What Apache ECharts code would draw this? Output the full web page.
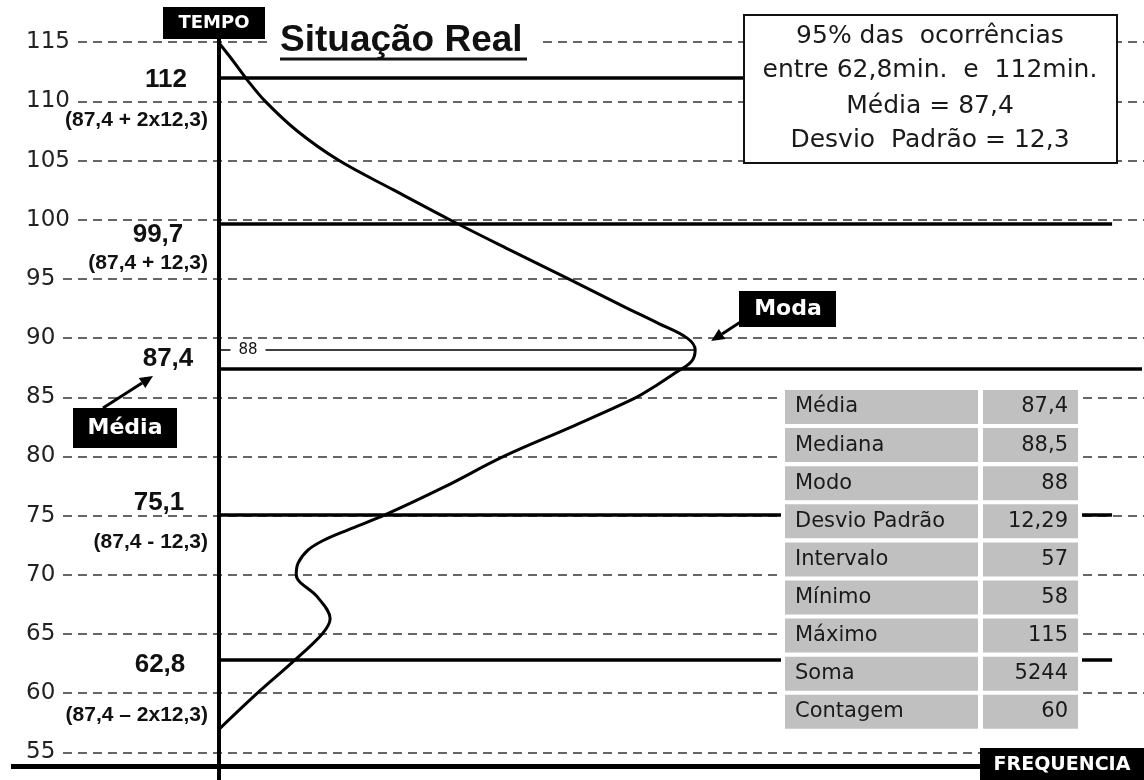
<!DOCTYPE html>
<html>
<head>
<meta charset="utf-8">
<script src="https://cdn.jsdelivr.net/npm/echarts@6/dist/echarts.min.js"></script>
<style>
  html, body { margin: 0; padding: 0; background: #fff; }
  #main { width: 1144px; height: 780px; }
</style>
</head>
<body>
<div id="main"></div>
<script>
// marcas do eixo de tempo
var ticks = [55, 60, 65, 70, 75, 80, 85, 90, 95, 100, 105, 110, 115];

// curva de frequencia: tempo (min) x frequencia relativa
var tempo = [56.9, 60, 62.6, 65, 66.3, 68.15, 70, 71, 72.1, 72.9, 73.8, 75.1, 77.4, 80, 82.5, 84.9, 86, 87, 88, 89, 90, 91.25, 92.6, 95, 97.5, 100, 102.5, 105, 107.5, 110, 111.8, 113.5, 115];
var frequencia = [0, 0.39, 0.74, 1.04, 1.12, 0.99, 0.78, 0.8, 0.9, 1.05, 1.3, 1.68, 2.26, 2.86, 3.54, 4.17, 4.39, 4.57, 4.74, 4.78, 4.7, 4.41, 4.08, 3.51, 2.91, 2.32, 1.76, 1.21, 0.79, 0.47, 0.29, 0.14, 0];

// linhas de referencia (media +- desvios)
var refValues = [112, 99.7, 87.4, 75.1, 62.8];
var refLabels = ['112', '99,7', '87,4', '75,1', '62,8'];
var refNotes = ['(87,4 + 2x12,3)', '(87,4 + 12,3)', '', '(87,4 - 12,3)', '(87,4 \u2013 2x12,3)'];

// moda (linha fina ate o pico)
var modaLevel = 89;
var modaPeak = 4.78;
var modaLabel = '88';

// quadro de estatisticas
var statNames = ['Média', 'Mediana', 'Modo', 'Desvio Padrão', 'Intervalo', 'Mínimo', 'Máximo', 'Soma', 'Contagem'];
var statValues = ['87,4', '88,5', '88', '12,29', '57', '58', '115', '5244', '60'];

var boxLines = ['95% das  ocorrências', 'entre 62,8min.  e  112min.', 'Média = 87,4', 'Desvio  Padrão = 12,3'];

var chart = echarts.init(document.getElementById('main'));

var curveData = tempo.map(function (t, i) { return [frequencia[i], t]; });

var lines = [];
// eixos
lines.push([{ coord: [0, 52.66], lineStyle: { width: 4 } }, { coord: [0, 115.3] }]);
lines.push([{ coord: [-2.08, 53.84], lineStyle: { width: 5 } }, { coord: [9.28, 53.84] }]);
refValues.forEach(function (v) {
    lines.push([{ coord: [0, v], lineStyle: { width: 3.5 } }, { coord: [v === 87.4 ? 9.26 : 8.96, v] }]);
});
lines.push([{ coord: [0, modaLevel], lineStyle: { width: 1.5 } }, { coord: [modaPeak, modaLevel] }]);

var yMin = 52.66, yMax = 118.57;

chart.setOption({
    animation: false,
    grid: { left: 0, right: 0, top: 0, bottom: 0 },
    xAxis: { type: 'value', min: -2.16, max: 9.28, show: false },
    yAxis: [
        {
            type: 'value', min: yMin, max: yMax,
            axisLine: { show: false },
            axisTick: { show: false, customValues: ticks },
            axisLabel: { show: false, customValues: ticks },
            splitLine: { show: true, lineStyle: { color: '#666', width: 2, type: [9, 6] } }
        },
        {
            type: 'value', min: yMin, max: yMax, position: 'left', z: 5,
            axisLine: { show: false }, splitLine: { show: false },
            axisTick: { show: false, customValues: ticks },
            axisLabel: {
                customValues: ticks,
                inside: true, margin: 0,
                fontFamily: 'DejaVu Sans', fontSize: 23, color: '#222',
                backgroundColor: '#fff', padding: [0, 5, 0, 23]
            }
        }
    ],
    series: [
        {
            name: 'curva', type: 'line', data: curveData, smooth: 0.35,
            symbol: 'none', z: 5,
            lineStyle: { color: '#000', width: 3 }
        },
        {
            name: 'linhas', type: 'line', data: [], z: 4,
            markLine: {
                silent: true, symbol: ['none', 'none'], label: { show: false },
                lineStyle: { color: '#000', type: 'solid' },
                data: lines
            }
        }
    ]
});

function px(v) { return chart.convertToPixel({ xAxisIndex: 0, yAxisIndex: 0 }, [0, v])[1]; }
function fx(f) { return chart.convertToPixel({ xAxisIndex: 0, yAxisIndex: 0 }, [f, 60])[0]; }

function txt(s, x, y, o) {
    return { type: 'text', z: 101, style: Object.assign({
        text: s, x: x, y: y, fill: '#111', align: 'center', verticalAlign: 'middle',
        fontFamily: 'DejaVu Sans', fontSize: 20
    }, o || {}) };
}
function rect(x, y, w, h, o) {
    return { type: 'rect', z: 100, shape: { x: x, y: y, width: w, height: h }, style: Object.assign({ fill: '#000' }, o || {}) };
}
function arrow(x1, y1, x2, y2) {
    var dx = x2 - x1, dy = y2 - y1, l = Math.sqrt(dx * dx + dy * dy);
    var ux = dx / l, uy = dy / l, bx = x2 - ux * 13, by = y2 - uy * 13;
    return [
        { type: 'line', z: 100, shape: { x1: x1, y1: y1, x2: bx, y2: by }, style: { stroke: '#000', lineWidth: 3 } },
        { type: 'polygon', z: 100, shape: { points: [[x2, y2], [bx - uy * 6, by + ux * 6], [bx + uy * 6, by - ux * 6]] }, style: { fill: '#000' } }
    ];
}

var g = [];
var boldL = { fontFamily: 'Liberation Sans', fontWeight: 'bold' };

// titulo
g.push(rect(267, 22, 270, 42, { fill: '#fff' }));
g.push(txt('Situação Real', 280, 41, Object.assign({ align: 'left', fontSize: 37 }, boldL)));
g.push({ type: 'line', z: 100, shape: { x1: 280, y1: 59, x2: 527, y2: 59 }, style: { stroke: '#111', lineWidth: 3 } });

// rotulos dos eixos
g.push(rect(163, 7, 102, 32));
g.push(txt('TEMPO', 214, 23, { fill: '#fff', fontWeight: 'bold', fontSize: 18 }));
g.push(rect(980, 748, 164, 32));
g.push(txt('FREQUENCIA', 1062, 765, { fill: '#fff', fontWeight: 'bold', fontSize: 19 }));

// valores das linhas de referencia
var labelX = [166, 158, 168, 159, 160];
var labelDy = [2, 12, -10, -12, 5];
var noteY = [120, 263, 0, 542, 715];
refValues.forEach(function (v, i) {
    g.push(txt(refLabels[i], labelX[i], px(v) + labelDy[i], Object.assign({ fontSize: 26 }, boldL)));
    if (refNotes[i]) {
        g.push(txt(refNotes[i], 208, noteY[i], Object.assign({ align: 'right', fontSize: 21 }, boldL)));
    }
});

// moda
g.push(txt(modaLabel, 248, px(modaLevel), { fontSize: 15, backgroundColor: '#fff', padding: [0, 8] }));
g.push(rect(739, 291, 97, 36));
g.push(txt('Moda', 788, 309, { fill: '#fff', fontWeight: 'bold', fontSize: 22 }));
g = g.concat(arrow(742, 321, fx(modaPeak) + 16, 341));

// media
g.push(rect(73, 408, 104, 40));
g.push(txt('Média', 125, 428, { fill: '#fff', fontWeight: 'bold', fontSize: 22 }));
g = g.concat(arrow(103, 408, 153, 376));

// quadro superior
g.push(rect(744, 15, 373, 148, { fill: '#fff', stroke: '#111', lineWidth: 2 }));
var boxY = [36, 70, 106, 140];
boxLines.forEach(function (s, i) {
    g.push(txt(s, 930, boxY[i], { fontSize: 25, fill: '#1a1a1a' }));
});

// tabela de estatisticas
g.push(rect(781, 386, 301, 348, { fill: '#fff' }));
statNames.forEach(function (name, i) {
    var top = 390 + i * 38.1;
    g.push(rect(785, top, 193, 34, { fill: '#c0c0c0' }));
    g.push(rect(983, top, 95, 34, { fill: '#c0c0c0' }));
    g.push(txt(name, 795, top + 17, { align: 'left', fontSize: 21, fill: '#1a1a1a' }));
    g.push(txt(statValues[i], 1068, top + 17, { align: 'right', fontSize: 21, fill: '#1a1a1a' }));
});

chart.setOption({ graphic: { elements: g } });
</script>
</body>
</html>
